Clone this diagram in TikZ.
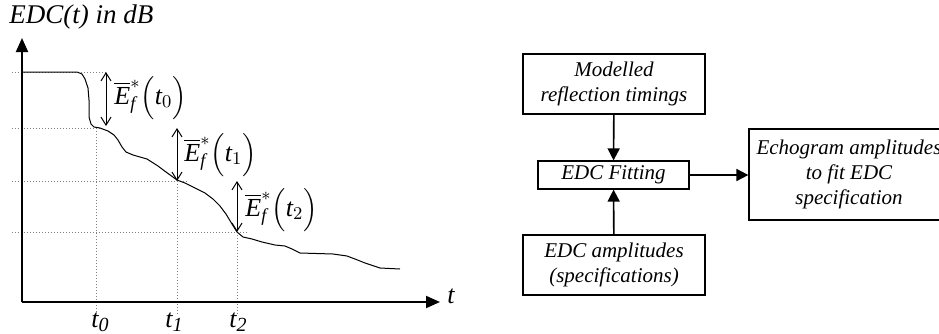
\documentclass[tikz,border=0pt]{standalone}
\usepackage{fontspec}
\setmainfont{Liberation Serif}
\usepackage{tikz}
\usepackage{amsmath}
\usetikzlibrary{positioning, arrows.meta, calc}

\tikzset{
  blockbox/.style={draw, line width=0.6pt, align=center, inner sep=2pt,
    font=\fontsize{10.5}{12.5}\selectfont\itshape},
  flow/.style={line width=0.8pt, -{Triangle[length=6pt,width=6pt]}},
  axis/.style={line width=1pt, -{Triangle[length=7pt,width=6pt]}},
  guide/.style={densely dotted, gray, line width=0.5pt},
  span/.style={line width=0.5pt, {Straight Barb[length=4pt,width=5pt]}-{Straight Barb[length=4pt,width=5pt]}},
  edclabel/.style={anchor=west, inner sep=0pt, font=\fontsize{13}{15}\selectfont},
  ticklabel/.style={inner sep=0pt, font=\fontsize{13}{15}\selectfont\itshape}
}
\newcommand{\Ef}[1]{$\overline{\textit{E}}^{*}_{\textit{f}}\Bigl(\textit{t}_{#1}\Bigr)$}
\newcommand{\tsub}[1]{t\raisebox{-0.35ex}{\fontsize{10}{10}\selectfont #1}}

\begin{document}
\begin{tikzpicture}[x=0.5pt, y=-0.5pt]
    \useasboundingbox (0,0) rectangle (939,333);

    % --- decay curve ---
    \coordinate (O) at (22,302);
    \coordinate (ytop) at (22,38);
    \coordinate (xend) at (440,302);
    \coordinate (k0) at (96,128);
    \coordinate (k1) at (177,181);
    \coordinate (k2) at (237,232);

    % helper lines
    \draw[guide] (12,72) -- (106,72);
    \draw[guide] (12,128) -- (k0) -- ++(4,0);
    \draw[guide] (12,181) -- (k1) -- ++(11,0);
    \draw[guide] (12,232) -- (k2) -- ++(11,0);
    \draw[guide] (k0) -- (96,314);
    \draw[guide] (k1) -- (177,314);
    \draw[guide] (k2) -- (237,314);

    % axes
    \draw[axis] (O) -- (ytop);
    \draw[axis] (O) -- (xend);
    \node[ticklabel] (tlab) at (451,296) {t};
    \node[anchor=west, inner sep=0pt, font=\fontsize{13.5}{15}\selectfont\itshape] (ylab) at (9,17) {EDC(t) in dB};

    \node[ticklabel] (t0) at (100,322) {\tsub{0}};
    \node[ticklabel] (t1) at (174,322) {\tsub{1}};
    \node[ticklabel] (t2) at (238,322) {\tsub{2}};

    % the measured EDC
    \draw[line width=0.5pt] (22,72) -- (77,72) -- (82,74) -- (85,79) -- (88,88) -- (89,100)
      -- (89,117) -- (91,124) -- (94,127) -- (100,128) -- (108,131) -- (114,135)
      -- (118,140) -- (122,147) -- (126,152) -- (133,155) -- (147,159) -- (158,166)
      -- (166,172) -- (177,180) -- (185,183) -- (193,187) -- (205,193) -- (213,199)
      -- (220,206) -- (226,214) -- (232,224) -- (237,232) -- (243,237) -- (252,239)
      -- (262,242) -- (275,245) -- (285,246) -- (292,249) -- (300,253) -- (333,254)
      -- (347,256) -- (355,259) -- (365,263) -- (380,268) -- (400,269);

    % energy steps
    \draw[span] (106,72) -- (106,126);
    \draw[span] (177,128) -- (k1);
    \draw[span] (237,181) -- (k2);
    \node[edclabel] (e0) at (114,98) {\Ef{0}};
    \node[edclabel] (e1) at (184,155) {\Ef{1}};
    \node[edclabel] (e2) at (245,210) {\Ef{2}};

    % --- fitting blocks ---
    \node[blockbox, minimum width=91pt, minimum height=30pt] (model) at (614,84) {Modelled\\reflection timings};
    \node[blockbox, minimum width=75.5pt, minimum height=14pt] (fit) at (613.5,175) {EDC Fitting};
    \node[blockbox, minimum width=91pt, minimum height=30pt] (ampl) at (614,265) {EDC amplitudes\\(specifications)};
    \node[blockbox, minimum width=100pt, minimum height=45.5pt] (echo) at (849,174.5) {Echogram amplitudes\\to fit EDC\\specification};

    \draw[flow] (model) -- (fit);
    \draw[flow] (ampl) -- (fit);
    \draw[flow] (fit.east) -- (fit.east -| echo.west);
\end{tikzpicture}
\end{document}
